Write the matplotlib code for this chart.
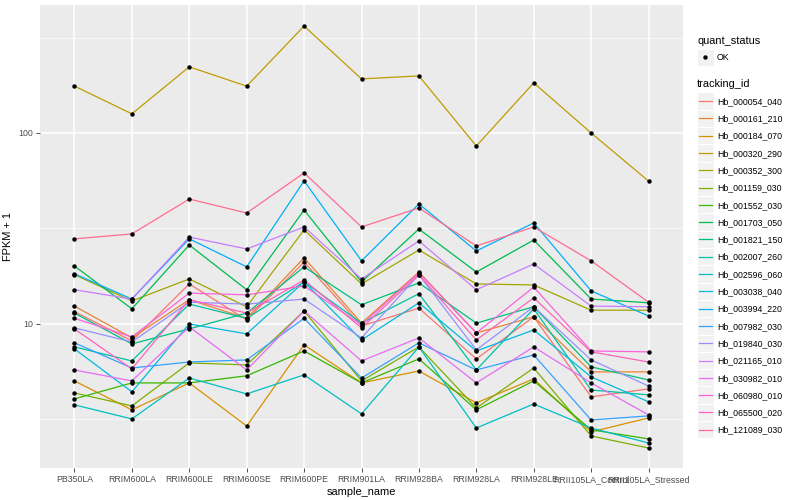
import matplotlib
matplotlib.use('Agg')
import matplotlib.pyplot as plt
from matplotlib.patches import Rectangle
from matplotlib.lines import Line2D

samples = ['PB350LA', 'RRIM600LA', 'RRIM600LE', 'RRIM600SE', 'RRIM600PE', 'RRIM901LA',
           'RRIM928BA', 'RRIM928LA', 'RRIM928LE', 'RRII105LA_Control', 'RRII105LA_Stressed']

tracking_ids = ['Hb_000054_040', 'Hb_000161_210', 'Hb_000184_070', 'Hb_000320_290',
                'Hb_000352_300', 'Hb_001159_030', 'Hb_001552_030', 'Hb_001703_050',
                'Hb_001821_150', 'Hb_002007_260', 'Hb_002596_060', 'Hb_003038_040',
                'Hb_003994_220', 'Hb_007982_030', 'Hb_019840_030', 'Hb_021165_010',
                'Hb_030982_010', 'Hb_060980_010', 'Hb_065500_020', 'Hb_121089_030']

colors = ['#F8766D', '#EA8331', '#D89000', '#C09B00', '#A3A500', '#7CAE00', '#39B600',
          '#00BB4E', '#00BF7D', '#00C1A3', '#00BFC4', '#00BAE0', '#00B0F6', '#35A2FF',
          '#9590FF', '#C77CFF', '#E76BF3', '#FA62DB', '#FF62BC', '#FF6C91']

# FPKM + 1 per gene, one value per sample
fpkm = {
    'Hb_000054_040': [11.6, 8.15, 16.2, 10.5, 21.1, 9.76, 12.1, 6.56, 10.9, 4.15, 4.57],
    'Hb_000161_210': [12.4, 8.45, 13.4, 10.7, 22.2, 10.1, 18.7, 8.97, 10.9, 5.61, 5.61],
    'Hb_000184_070': [5.03, 3.55, 4.91, 2.92, 7.77, 4.91, 5.67, 3.86, 5.15, 2.72, 3.22],
    'Hb_000320_290': [176, 126, 222, 176, 363, 192, 199, 85.5, 183, 100, 56],
    'Hb_000352_300': [18.1, 13.2, 17.2, 12.3, 31.1, 16.2, 24.4, 16.2, 16.0, 11.8, 11.8],
    'Hb_001159_030': [4.35, 3.72, 6.25, 6.10, 11.7, 5.03, 7.58, 3.63, 5.88, 2.59, 2.24],
    'Hb_001552_030': [4.05, 4.91, 4.91, 5.35, 7.22, 4.91, 6.56, 3.55, 5.03, 2.79, 2.50],
    'Hb_001703_050': [20.1, 12.0, 25.9, 15.1, 39.5, 16.6, 31.4, 18.7, 27.5, 13.5, 12.9],
    'Hb_001821_150': [11.4, 7.86, 9.42, 11.4, 19.9, 12.6, 16.4, 10.1, 12.3, 5.96, 5.09],
    'Hb_002007_260': [7.58, 6.40, 12.7, 10.7, 16.6, 10.1, 14.4, 5.74, 12.0, 4.51, 4.25],
    'Hb_002596_060': [3.77, 3.18, 5.21, 4.30, 5.41, 3.38, 7.58, 2.85, 3.81, 2.85, 2.38],
    'Hb_003038_040': [7.40, 4.41, 10.0, 8.87, 16.6, 8.24, 12.9, 7.22, 9.30, 5.28, 3.91],
    'Hb_003994_220': [18.3, 13.5, 27.9, 19.9, 56.1, 21.4, 42.5, 24.1, 33.8, 14.9, 11.0],
    'Hb_007982_030': [7.96, 5.88, 6.32, 6.48, 10.7, 5.21, 7.96, 5.74, 6.88, 3.14, 3.30],
    'Hb_019840_030': [9.53, 8.05, 13.0, 12.7, 13.5, 8.45, 18.1, 7.31, 12.3, 6.48, 4.73],
    'Hb_021165_010': [15.1, 13.5, 28.5, 24.7, 32.2, 17.2, 27.2, 15.1, 20.6, 12.4, 12.3],
    'Hb_030982_010': [5.74, 5.03, 9.66, 5.74, 11.7, 6.40, 8.45, 4.91, 7.58, 4.91, 3.34],
    'Hb_060980_010': [10.7, 8.55, 14.5, 14.2, 15.8, 9.88, 18.5, 8.97, 15.6, 7.22, 7.14],
    'Hb_065500_020': [9.42, 5.81, 13.4, 11.4, 17.0, 9.53, 18.1, 8.24, 13.7, 7.14, 6.32],
    'Hb_121089_030': [27.9, 29.6, 45.1, 38.1, 61.8, 32.2, 40.5, 25.6, 32.2, 21.4, 13.0],
}

plt.rcParams['font.family'] = ['Liberation Sans', 'DejaVu Sans']

fig = plt.figure(figsize=(8, 5), dpi=100)
ax = fig.add_axes([40 / 800, 1 - 468 / 500, (683 - 40) / 800, (468 - 5) / 500])
ax.set_facecolor('#EBEBEB')

x = list(range(len(samples)))
for tid, col in zip(tracking_ids, colors):
    ax.plot(x, fpkm[tid], color=col, lw=0.9, zorder=3)
for tid in tracking_ids:
    ax.plot(x, fpkm[tid], 'o', color='black', ms=3.2, mew=0, zorder=4)

ax.set_yscale('log')
ax.set_ylim(1.76, 468)
ax.set_xlim(-0.6, len(samples) - 0.4)
ax.set_yticks([10, 100])
ax.set_yticklabels(['10', '100'])
ax.set_yticks([10 ** 0.5, 10 ** 1.5, 10 ** 2.5], minor=True)
ax.yaxis.set_minor_formatter(plt.NullFormatter())
ax.set_xticks(x)
ax.set_xticklabels(samples)

ax.grid(True, which='major', color='white', lw=1.1, zorder=1)
ax.grid(True, which='minor', axis='y', color='white', lw=0.5, zorder=1)
ax.set_axisbelow(True)
for s in ax.spines.values():
    s.set_visible(False)
ax.tick_params(axis='both', which='major', length=3, width=0.6, color='#333333',
               labelsize=6.3, labelcolor='#4D4D4D', pad=2)
ax.tick_params(axis='y', which='minor', length=0)

ax.set_xlabel('sample_name', fontsize=7.9, labelpad=2)
ax.set_ylabel('FPKM + 1', fontsize=7.9, labelpad=4)

# legend, drawn in pixel coordinates
lax = fig.add_axes([0, 0, 1, 1], zorder=5)
lax.set_xlim(0, 800)
lax.set_ylim(500, 0)
lax.axis('off')

lax.text(697, 41, 'quant_status', fontsize=7.9, va='center', ha='left')
lax.add_patch(Rectangle((697, 49), 16.5, 16.5, facecolor='#F2F2F2', edgecolor='white', lw=0.8))
lax.plot([705.2], [57.2], 'o', color='black', ms=3.2, mew=0)
lax.text(717, 57.5, 'OK', fontsize=6.3, va='center', ha='left')

lax.text(697, 84, 'tracking_id', fontsize=7.9, va='center', ha='left')
step = 17.3
for i, (tid, col) in enumerate(zip(tracking_ids, colors)):
    yc = 101 + i * step
    lax.add_patch(Rectangle((697, yc - step / 2), 16.5, step, facecolor='#F2F2F2',
                            edgecolor='white', lw=0.8))
    lax.add_line(Line2D([699, 712], [yc, yc], color=col, lw=0.9))
    lax.text(717, yc + 0.5, tid, fontsize=6.3, va='center', ha='left')

fig.savefig('out.png', dpi=100)
